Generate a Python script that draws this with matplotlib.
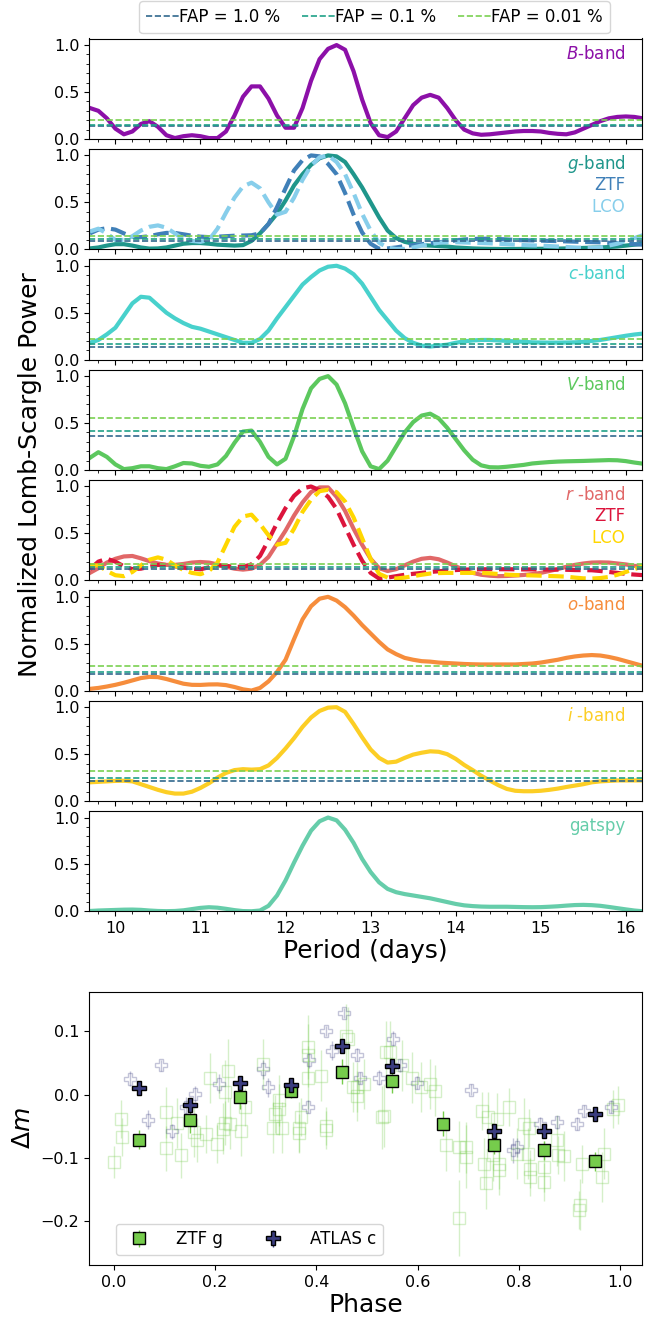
import numpy as np
import matplotlib.pyplot as plt
from matplotlib.ticker import MultipleLocator

# ---- periodogram data ----
period = np.round(np.linspace(9.7, 16.2, 66), 2)

power_B = [0.33, 0.30, 0.22, 0.11, 0.05, 0.08, 0.16, 0.19, 0.13, 0.04,
           0.01, 0.03, 0.04, 0.03, 0.01, 0.01, 0.08, 0.25, 0.45, 0.56,
           0.56, 0.43, 0.25, 0.12, 0.12, 0.33, 0.62, 0.85, 0.96, 1.00,
           0.95, 0.72, 0.42, 0.17, 0.04, 0.02, 0.08, 0.22, 0.36, 0.44,
           0.47, 0.44, 0.33, 0.20, 0.10, 0.06, 0.045, 0.05, 0.06, 0.07,
           0.08, 0.085, 0.085, 0.08, 0.065, 0.055, 0.05, 0.07, 0.11, 0.15,
           0.19, 0.22, 0.235, 0.24, 0.235, 0.22]
power_g = [0.01, 0.02, 0.04, 0.055, 0.055, 0.04, 0.02, 0.008, 0.01, 0.02,
           0.04, 0.06, 0.067, 0.067, 0.06, 0.05, 0.045, 0.04, 0.045, 0.09,
           0.17, 0.27, 0.38, 0.52, 0.68, 0.80, 0.90, 0.97, 1.0, 0.99,
           0.93, 0.80, 0.66, 0.50, 0.34, 0.20, 0.12, 0.08, 0.06, 0.045,
           0.04, 0.035, 0.03, 0.02, 0.015, 0.01, 0.007, 0.005, 0.004, 0.004,
           0.004, 0.005, 0.005, 0.006, 0.007, 0.008, 0.01, 0.012, 0.015, 0.018,
           0.02, 0.025, 0.03, 0.04, 0.05, 0.06]
power_g_ztf = [0.17, 0.21, 0.225, 0.21, 0.17, 0.135, 0.13, 0.14, 0.16, 0.175,
               0.175, 0.16, 0.145, 0.135, 0.13, 0.135, 0.14, 0.145, 0.147, 0.15,
               0.17, 0.27, 0.45, 0.65, 0.84, 0.95, 1.0, 0.99, 0.91, 0.80,
               0.60, 0.37, 0.18, 0.06, 0.005, 0.01, 0.02, 0.035, 0.045, 0.055,
               0.065, 0.075, 0.085, 0.095, 0.105, 0.11, 0.113, 0.113, 0.11, 0.105,
               0.10, 0.097, 0.095, 0.093, 0.09, 0.088, 0.085, 0.082, 0.079, 0.077,
               0.075, 0.07, 0.065, 0.06, 0.055, 0.05]
power_g_lco = [0.19, 0.22, 0.17, 0.10, 0.10, 0.14, 0.20, 0.24, 0.255, 0.23,
               0.17, 0.11, 0.09, 0.08, 0.10, 0.22, 0.39, 0.55, 0.67, 0.71,
               0.65, 0.50, 0.37, 0.40, 0.55, 0.74, 0.89, 0.98, 1.0, 0.93,
               0.80, 0.60, 0.38, 0.20, 0.07, 0.02, 0.003, 0.005, 0.02, 0.04,
               0.055, 0.07, 0.077, 0.076, 0.073, 0.07, 0.067, 0.064, 0.06, 0.055,
               0.05, 0.045, 0.042, 0.04, 0.035, 0.03, 0.025, 0.02, 0.016, 0.014,
               0.02, 0.04, 0.06, 0.09, 0.12, 0.15]
power_c = [0.18, 0.21, 0.27, 0.34, 0.47, 0.60, 0.67, 0.66, 0.58, 0.50,
           0.44, 0.39, 0.35, 0.33, 0.30, 0.27, 0.24, 0.21, 0.18, 0.18,
           0.22, 0.31, 0.44, 0.56, 0.68, 0.80, 0.88, 0.95, 0.99, 1.0,
           0.97, 0.91, 0.81, 0.67, 0.53, 0.42, 0.31, 0.23, 0.18, 0.15,
           0.14, 0.15, 0.16, 0.18, 0.195, 0.205, 0.21, 0.21, 0.205, 0.2,
           0.195, 0.19, 0.185, 0.183, 0.182, 0.182, 0.183, 0.185, 0.19, 0.2,
           0.21, 0.225, 0.24, 0.255, 0.268, 0.278]
power_V = [0.13, 0.19, 0.14, 0.06, 0.01, 0.02, 0.04, 0.04, 0.02, 0.01,
           0.04, 0.075, 0.07, 0.045, 0.035, 0.06, 0.15, 0.29, 0.41, 0.42,
           0.30, 0.14, 0.06, 0.12, 0.36, 0.65, 0.87, 0.97, 1.0, 0.91,
           0.71, 0.45, 0.20, 0.04, 0.01, 0.10, 0.25, 0.40, 0.51, 0.58,
           0.60, 0.55, 0.45, 0.33, 0.21, 0.11, 0.05, 0.03, 0.028, 0.035,
           0.045, 0.055, 0.07, 0.078, 0.085, 0.09, 0.093, 0.095, 0.097, 0.10,
           0.103, 0.106, 0.104, 0.095, 0.08, 0.068]
power_r = [0.08, 0.13, 0.19, 0.23, 0.255, 0.26, 0.235, 0.205, 0.18, 0.165,
           0.165, 0.175, 0.19, 0.196, 0.19, 0.17, 0.145, 0.125, 0.115, 0.125,
           0.165, 0.25, 0.39, 0.53, 0.69, 0.83, 0.94, 0.99, 0.99, 0.89,
           0.74, 0.55, 0.38, 0.23, 0.13, 0.10, 0.12, 0.16, 0.20, 0.23,
           0.24, 0.225, 0.19, 0.15, 0.11, 0.08, 0.06, 0.05, 0.045, 0.047,
           0.052, 0.058, 0.067, 0.08, 0.10, 0.12, 0.145, 0.165, 0.18, 0.19,
           0.192, 0.19, 0.18, 0.17, 0.155, 0.143]
power_r_ztf = [0.12, 0.20, 0.23, 0.20, 0.15, 0.12, 0.125, 0.145, 0.165, 0.165,
               0.15, 0.135, 0.125, 0.118, 0.14, 0.16, 0.155, 0.145, 0.145, 0.17,
               0.26, 0.43, 0.61, 0.77, 0.90, 0.98, 1.0, 0.96, 0.89, 0.76,
               0.57, 0.38, 0.21, 0.08, 0.02, 0.03, 0.045, 0.06, 0.07, 0.08,
               0.09, 0.097, 0.105, 0.11, 0.115, 0.117, 0.118, 0.119, 0.119, 0.119,
               0.118, 0.117, 0.117, 0.116, 0.115, 0.115, 0.113, 0.11, 0.109, 0.108,
               0.10, 0.09, 0.08, 0.07, 0.062, 0.056]
power_r_lco = [0.16, 0.16, 0.10, 0.055, 0.045, 0.09, 0.16, 0.22, 0.245, 0.22,
               0.16, 0.11, 0.08, 0.066, 0.10, 0.19, 0.38, 0.57, 0.68, 0.70,
               0.60, 0.48, 0.38, 0.40, 0.55, 0.73, 0.86, 0.95, 0.965, 0.94,
               0.84, 0.67, 0.45, 0.23, 0.07, 0.03, 0.02, 0.03, 0.045, 0.06,
               0.073, 0.078, 0.08, 0.08, 0.08, 0.08, 0.08, 0.075, 0.068, 0.062,
               0.057, 0.055, 0.053, 0.05, 0.047, 0.044, 0.04, 0.03, 0.022, 0.02,
               0.025, 0.037, 0.06, 0.09, 0.12, 0.15]
power_o = [0.02, 0.03, 0.045, 0.063, 0.085, 0.11, 0.135, 0.148, 0.145, 0.125,
           0.10, 0.075, 0.063, 0.062, 0.067, 0.068, 0.06, 0.04, 0.015, 0.002,
           0.03, 0.10, 0.20, 0.33, 0.55, 0.76, 0.90, 0.98, 1.0, 0.96,
           0.89, 0.80, 0.70, 0.61, 0.52, 0.44, 0.39, 0.35, 0.33, 0.315,
           0.31, 0.30, 0.295, 0.29, 0.285, 0.282, 0.28, 0.28, 0.28, 0.28,
           0.28, 0.285, 0.29, 0.30, 0.315, 0.33, 0.35, 0.365, 0.375, 0.38,
           0.375, 0.36, 0.34, 0.315, 0.29, 0.265]
power_i = [0.20, 0.205, 0.21, 0.215, 0.217, 0.21, 0.18, 0.15, 0.12, 0.095,
           0.08, 0.08, 0.10, 0.14, 0.19, 0.25, 0.30, 0.33, 0.34, 0.335,
           0.34, 0.38, 0.46, 0.56, 0.67, 0.79, 0.89, 0.96, 0.995, 1.0,
           0.95, 0.82, 0.68, 0.55, 0.46, 0.41, 0.42, 0.46, 0.495, 0.515,
           0.53, 0.525, 0.50, 0.45, 0.385, 0.33, 0.27, 0.22, 0.17, 0.13,
           0.11, 0.105, 0.105, 0.11, 0.12, 0.133, 0.15, 0.165, 0.18, 0.20,
           0.21, 0.215, 0.22, 0.22, 0.22, 0.22]
power_gatspy = [0.005, 0.01, 0.013, 0.016, 0.019, 0.02, 0.017, 0.01, 0.005, 0.003,
                0.005, 0.012, 0.025, 0.038, 0.045, 0.04, 0.028, 0.014, 0.004, 0.002,
                0.01, 0.06, 0.17, 0.33, 0.52, 0.70, 0.86, 0.96, 1.0, 0.97,
                0.87, 0.73, 0.56, 0.42, 0.31, 0.24, 0.205, 0.185, 0.17, 0.155,
                0.14, 0.12, 0.10, 0.08, 0.065, 0.057, 0.052, 0.05, 0.05, 0.05,
                0.048, 0.046, 0.045, 0.046, 0.05, 0.055, 0.062, 0.068, 0.07, 0.067,
                0.06, 0.048, 0.035, 0.022, 0.01, 0.002]

# false-alarm levels per band: FAP 1.0 %, 0.1 %, 0.01 %
fap_B = [0.134, 0.152, 0.205]
fap_g = [0.088, 0.113, 0.140]
fap_c = [0.140, 0.165, 0.218]
fap_V = [0.366, 0.420, 0.553]
fap_r = [0.126, 0.143, 0.178]
fap_o = [0.175, 0.200, 0.262]
fap_i = [0.210, 0.245, 0.320]
fap_labels = ['FAP = 1.0 %', 'FAP = 0.1 %', 'FAP = 0.01 %']
fap_colors = ['#31688e', '#1fa187', '#7ad151']

# ---- phase-folded light curve ----
ztf_phase = [0.000, 0.014, 0.016, 0.104, 0.104, 0.125, 0.133, 0.158, 0.165, 0.183,
             0.190, 0.204, 0.215, 0.219, 0.219, 0.226, 0.229, 0.251, 0.260, 0.294,
             0.315, 0.319, 0.326, 0.326, 0.333, 0.366, 0.366, 0.369, 0.383, 0.383,
             0.383, 0.409, 0.419, 0.419, 0.459, 0.462, 0.473, 0.480, 0.480, 0.495,
             0.530, 0.534, 0.538, 0.545, 0.570, 0.588, 0.606, 0.624, 0.634, 0.656,
             0.681, 0.681, 0.695, 0.695, 0.728, 0.731, 0.735, 0.738, 0.749, 0.756,
             0.760, 0.760, 0.781, 0.796, 0.810, 0.817, 0.820, 0.821, 0.821, 0.849,
             0.849, 0.875, 0.878, 0.889, 0.918, 0.921, 0.925, 0.964, 0.968, 0.986,
             0.996]
ztf_dm = [-0.106, -0.038, -0.067, -0.028, -0.085, -0.045, -0.096, -0.059, -0.072, -0.062,
          0.026, -0.078, -0.054, -0.045, 0.004, 0.038, -0.046, -0.057, -0.019, 0.048,
          -0.052, -0.030, -0.009, -0.023, -0.052, -0.061, -0.052, -0.036, 0.075, 0.027,
          0.062, 0.030, -0.050, -0.056, 0.093, 0.088, 0.012, -0.002, 0.012, 0.017,
          -0.036, -0.033, 0.067, 0.067, 0.046, 0.027, 0.012, 0.017, 0.006, -0.080,
          -0.082, -0.195, -0.083, -0.098, -0.026, -0.109, -0.140, -0.036, -0.096, -0.038,
          -0.109, -0.119, -0.020, -0.093, -0.046, -0.093, -0.052, -0.117, -0.130, -0.138,
          -0.114, -0.072, -0.096, -0.097, -0.182, -0.174, -0.109, -0.130, -0.093, -0.023,
          -0.017]
ztf_err = [0.025, 0.030, 0.030, 0.040, 0.035, 0.040, 0.035, 0.040, 0.035, 0.030,
           0.040, 0.030, 0.040, 0.035, 0.050, 0.050, 0.040, 0.040, 0.030, 0.040,
           0.040, 0.030, 0.040, 0.040, 0.040, 0.030, 0.040, 0.030, 0.050, 0.050,
           0.050, 0.040, 0.030, 0.030, 0.050, 0.050, 0.040, 0.040, 0.040, 0.040,
           0.050, 0.050, 0.050, 0.050, 0.040, 0.040, 0.040, 0.040, 0.040, 0.040,
           0.040, 0.060, 0.040, 0.050, 0.030, 0.040, 0.040, 0.040, 0.040, 0.040,
           0.040, 0.040, 0.030, 0.040, 0.040, 0.040, 0.030, 0.030, 0.030, 0.030,
           0.040, 0.040, 0.030, 0.040, 0.030, 0.040, 0.030, 0.040, 0.040, 0.030,
           0.030]

atlas_phase = [0.032, 0.068, 0.093, 0.115, 0.143, 0.161, 0.208, 0.294, 0.305, 0.383,
               0.385, 0.419, 0.430, 0.455, 0.480, 0.487, 0.523, 0.552, 0.566, 0.599,
               0.706, 0.789, 0.796, 0.842, 0.875, 0.914, 0.928, 0.982]
atlas_dm = [0.025, -0.040, 0.046, -0.058, -0.019, 0.001, 0.017, 0.040, 0.012, -0.019,
            0.054, 0.101, 0.069, 0.129, 0.063, 0.026, 0.027, 0.088, 0.046, 0.019,
            0.008, -0.088, -0.083, -0.046, -0.044, -0.046, -0.026, -0.019]
atlas_err = [0.012, 0.015, 0.008, 0.012, 0.015, 0.012, 0.015, 0.015, 0.015, 0.010,
             0.012, 0.008, 0.015, 0.008, 0.010, 0.010, 0.012, 0.012, 0.010, 0.010,
             0.008, 0.020, 0.015, 0.010, 0.010, 0.010, 0.010, 0.010]

bin_phase = [0.05, 0.15, 0.25, 0.35, 0.45, 0.55, 0.65, 0.75, 0.85, 0.95]
ztf_bin = [-0.071, -0.040, -0.003, 0.006, 0.036, 0.022, -0.046, -0.079, -0.088, -0.105]
ztf_bin_err = [0.015, 0.020, 0.020, 0.012, 0.020, 0.020, 0.020, 0.015, 0.015, 0.015]
atlas_bin_phase = [0.05, 0.15, 0.25, 0.35, 0.45, 0.55, 0.75, 0.85, 0.95]
atlas_bin = [0.010, -0.017, 0.018, 0.015, 0.076, 0.045, -0.057, -0.058, -0.031]
atlas_bin_err = [0.008, 0.012, 0.010, 0.010, 0.008, 0.008, 0.010, 0.008, 0.006]

green = '#76cc4c'
navy = '#3b3d80'

panels = [
    ('$B$-band', [(power_B, '#8c10a8', '-')], fap_B, []),
    ('$g$-band', [(power_g, '#1f968b', '-'), (power_g_ztf, '#4080b8', '--'),
                  (power_g_lco, '#87ceeb', '--')], fap_g,
     [('ZTF', '#4080b8'), ('LCO', '#87ceeb')]),
    ('$c$-band', [(power_c, '#48d1cc', '-')], fap_c, []),
    ('$V$-band', [(power_V, '#5cc85e', '-')], fap_V, []),
    ('$r$ -band', [(power_r, '#e16868', '-'), (power_r_ztf, '#dc143c', '--'),
                   (power_r_lco, '#ffd700', '--')], fap_r,
     [('ZTF', '#dc143c'), ('LCO', '#ffd700')]),
    ('$o$-band', [(power_o, '#f68d3c', '-')], fap_o, []),
    ('$i$ -band', [(power_i, '#fcce25', '-')], fap_i, []),
    ('gatspy', [(power_gatspy, '#66cdaa', '-')], None, []),
]

W, H = 660, 1318
fig = plt.figure(figsize=(W / 100, H / 100), dpi=100)

def px_axes(x0, y0, x1, y1):
    return fig.add_axes([x0 / W, 1 - y1 / H, (x1 - x0) / W, (y1 - y0) / H])

left, right = 89, 642
axes = []
for k, (label, curves, faps, extra) in enumerate(panels):
    top = 38.5 + 110.35 * k
    ax = px_axes(left, top, right, top + 100.5)
    axes.append(ax)
    main_color = curves[0][1]
    for vals, col, ls in curves:
        ax.plot(period, vals, color=col, ls=ls, lw=3)
    if faps is not None:
        for lev, col, lab in zip(faps, fap_colors, fap_labels):
            ax.axhline(lev, color=col, ls='--', lw=1.2, label=lab)
    ax.text(0.97, 0.85, label, color=main_color, fontsize=12,
            ha='right', va='center', transform=ax.transAxes)
    for j, (name, col) in enumerate(extra):
        ax.text(0.97, 0.85 - 0.214 * (j + 1), name, color=col, fontsize=12,
                ha='right', va='center', transform=ax.transAxes)
    ax.set_xlim(9.69, 16.19)
    ax.set_ylim(0, 1.07)
    ax.set_yticks([0, 0.5, 1.0])
    ax.yaxis.set_minor_locator(MultipleLocator(0.1))
    ax.xaxis.set_major_locator(MultipleLocator(1))
    ax.xaxis.set_minor_locator(MultipleLocator(0.2))
    ax.tick_params(labelsize=11.5)
    if k < len(panels) - 1:
        ax.tick_params(labelbottom=False)

axes[-1].set_xlabel('Period (days)', fontsize=18, labelpad=2)
fig.text(30 / W, 1 - 475 / H, 'Normalized Lomb-Scargle Power', fontsize=18,
         rotation=90, ha='center', va='center')

h, l = axes[0].get_legend_handles_labels()
fig.legend(h, l, loc='upper center', bbox_to_anchor=(374.5 / W, 1 - 1.5 / H),
           ncol=3, fontsize=12, handletextpad=0.0, columnspacing=1.3,
           borderaxespad=0)

# ---- phase panel ----
axp = px_axes(left, 992, right, 1265)
axp.errorbar(ztf_phase, ztf_dm, yerr=ztf_err, fmt='s', ms=8, mfc='none',
             mec=green, ecolor=green, elinewidth=1, alpha=0.3)
axp.errorbar(atlas_phase, atlas_dm, yerr=atlas_err, fmt='P', ms=9, mfc='none',
             mec=navy, ecolor=navy, elinewidth=1, alpha=0.3)
axp.errorbar(bin_phase, ztf_bin, yerr=ztf_bin_err, fmt='s', ms=9, mfc=green,
             mec='black', ecolor=green, elinewidth=1, label='ZTF g')
axp.errorbar(atlas_bin_phase, atlas_bin, yerr=atlas_bin_err, fmt='P', ms=10,
             mfc=navy, mec='black', ecolor=navy, elinewidth=1, label='ATLAS c')
axp.set_xlim(-0.049, 1.043)
axp.set_ylim(-0.269, 0.162)
axp.set_yticks([-0.2, -0.1, 0.0, 0.1])
axp.set_xticks([0.0, 0.2, 0.4, 0.6, 0.8, 1.0])
axp.tick_params(labelsize=11.5)
axp.set_xlabel('Phase', fontsize=18, labelpad=2)
axp.set_ylabel(r'$\Delta m$', fontsize=18)
axp.legend(loc='lower left', bbox_to_anchor=(0.049, 0.037), ncol=2,
           fontsize=12, borderaxespad=0, handletextpad=1.2)

fig.savefig('out.png', dpi=100)
